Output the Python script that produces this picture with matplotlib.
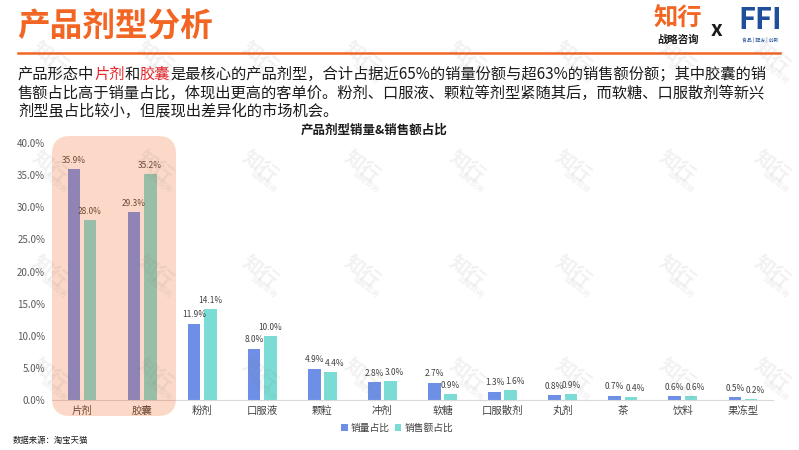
"""产品剂型销量&销售额占比 - grouped bar chart recreation."""

import matplotlib

matplotlib.use("Agg")
import matplotlib.pyplot as plt
import numpy as np
from matplotlib.patches import FancyBboxPatch
from matplotlib.transforms import IdentityTransform

plt.rcParams["font.family"] = ["Noto Sans CJK SC", "DejaVu Sans"]

categories = ["片剂", "胶囊", "粉剂", "口服液", "颗粒", "冲剂",
              "软糖", "口服散剂", "丸剂", "茶", "饮料", "果冻型"]
volume_share = [35.9, 29.3, 11.9, 8.0, 4.9, 2.8, 2.7, 1.3, 0.8, 0.7, 0.6, 0.5]
sales_share = [28.0, 35.2, 14.1, 10.0, 4.4, 3.0, 0.9, 1.6, 0.9, 0.4, 0.6, 0.2]
y_ticks = [0, 5, 10, 15, 20, 25, 30, 35, 40]
series_names = ["销量占比", "销售额占比"]

# a few sales labels were nudged right in the original to avoid touching
sales_label_dx = [0, 0, 0, 0, 3, 3, 0, 3, 0, 3, 3, 3]

ORANGE = "#F26522"
RED = "#E8262A"
BLUE = "#6E8FE6"
TEAL = "#7ADCD4"
TXT = "#404040"
INK = "#1a1a1a"

W, H = 799, 450
fig = plt.figure(figsize=(W / 100, H / 100), dpi=100)
renderer = fig.canvas.get_renderer()


def fx(px):
    return px / W


def fy(py):
    return 1 - py / H


# watermarks
for wy in [58, 167, 272, 375]:
    for wx in [50, 155, 260, 362, 467, 573, 677, 772]:
        fig.text(fx(wx), fy(wy), "知行", fontsize=14, fontweight="bold", rotation=-38,
                 color="#808080", alpha=0.11, ha="center", va="center", zorder=8)
        fig.text(fx(wx + 4), fy(wy + 15), "战略咨询", fontsize=5.5, fontweight="bold",
                 rotation=-38, color="#808080", alpha=0.11, ha="center", va="center", zorder=8)

# header
fig.text(fx(17), fy(27), "产品剂型分析", fontsize=23.5, fontweight="bold", color=ORANGE,
         ha="left", va="center")
fig.add_artist(plt.Line2D([fx(18), fx(780)], [fy(53), fy(53)], color=ORANGE, lw=1.8))

# logo
fig.text(fx(678), fy(19), "知行", fontsize=17.5, fontweight="bold", color=ORANGE,
         ha="center", va="center")
fig.text(fx(678), fy(40), "战略咨询", fontsize=7.5, fontweight="bold", color=INK,
         ha="center", va="center")
fig.text(fx(717), fy(30), "x", fontsize=15, fontweight="bold", color=INK,
         ha="center", va="center")
fig.text(fx(760), fy(20), "FFI", fontsize=21, fontweight="bold", color="#1F4E9A",
         ha="center", va="center")
fig.text(fx(760), fy(40), "食品 | 配方 | 创新", fontsize=3.5, color="#1F4E9A",
         ha="center", va="center")

# paragraph, with red highlights; place each piece at the width of the text before it
lines = [
    [("产品形态中", INK), ("片剂", RED), ("和", INK), ("胶囊", RED),
     ("是最核心的产品剂型，合计占据近65%的销量份额与超63%的销售额份额；其中胶囊的销", INK)],
    [("售额占比高于销量占比，体现出更高的客单价。粉剂、口服液、颗粒等剂型紧随其后，而软糖、口服散剂等新兴", INK)],
    [("剂型虽占比较小，但展现出差异化的市场机会。", INK)],
]
para_size = 11
probe = fig.text(0, 0, "", fontsize=para_size)
for row, py in zip(lines, [74, 93, 111]):
    prefix = ""
    for s, c in row:
        if prefix:
            probe.set_text(prefix)
            offset = probe.get_window_extent(renderer).width
        else:
            offset = 0
        fig.text(fx(18 + offset), fy(py), s, fontsize=para_size, color=c,
                 ha="left", va="center")
        prefix += s
probe.remove()

fig.text(fx(374), fy(130), "产品剂型销量&销售额占比", fontsize=9, fontweight="bold",
         color=INK, ha="center", va="center")

# chart
ax = fig.add_axes([fx(52), fy(400), (773 - 52) / W, (400 - 143) / H])
x = np.arange(len(categories))
bw = 0.21
b1 = ax.bar(x - 0.135, volume_share, bw, color=BLUE, zorder=2)
b2 = ax.bar(x + 0.135, sales_share, bw, color=TEAL, zorder=2)
for xi, v in zip(x - 0.135, volume_share):
    ax.annotate(f"{v:.1f}%", (xi, v), xytext=(0, 3), textcoords="offset points",
                ha="center", va="bottom", fontsize=6, color=TXT)
for xi, v, dx in zip(x + 0.135, sales_share, sales_label_dx):
    ax.annotate(f"{v:.1f}%", (xi, v), xytext=(dx, 3), textcoords="offset points",
                ha="center", va="bottom", fontsize=6, color=TXT)

ax.set_xlim(-0.5, len(categories) - 0.5)
ax.set_ylim(0, 40)
ax.set_yticks(y_ticks)
ax.set_yticklabels([f"{v:.1f}%" for v in y_ticks], fontsize=7, color="#595959")
ax.set_xticks(x)
ax.set_xticklabels(categories, fontsize=7.5, color=TXT)
ax.tick_params(axis="both", length=0)
ax.tick_params(axis="y", pad=5)
ax.tick_params(axis="x", pad=4)
for side in ["top", "right", "left"]:
    ax.spines[side].set_visible(False)
ax.spines["bottom"].set_color("#d9d9d9")
ax.patch.set_visible(False)

ax.legend([b1, b2], series_names, loc="center", bbox_to_anchor=(fx(397), fy(428)),
          bbox_transform=fig.transFigure, ncol=2, frameon=False, fontsize=7,
          handlelength=0.7, handleheight=0.7, handletextpad=0.3, columnspacing=0.5,
          labelcolor=TXT)

# highlight box over 片剂 / 胶囊
hl = FancyBboxPatch((52, H - 416), 124, 280, boxstyle="round,pad=0,rounding_size=18",
                    transform=IdentityTransform(), facecolor=ORANGE, edgecolor="none",
                    alpha=0.25, zorder=5)
fig.add_artist(hl)

fig.text(fx(13), fy(440), "数据来源：淘宝天猫", fontsize=6, color=INK,
         ha="left", va="center")

fig.savefig("out.png", dpi=100)
